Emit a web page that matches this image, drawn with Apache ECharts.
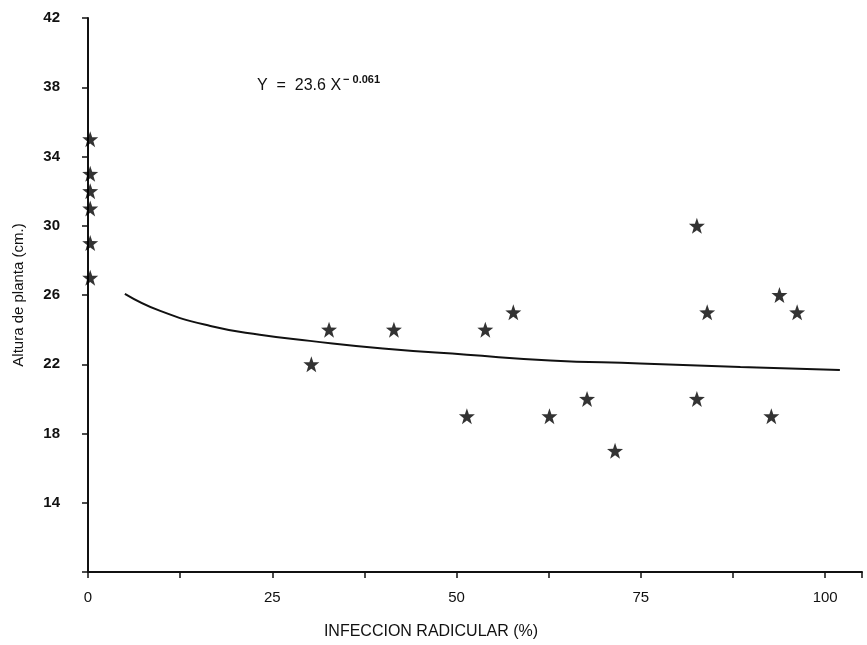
<!DOCTYPE html>
<html>
<head>
<meta charset="utf-8">
<script src="https://cdn.jsdelivr.net/npm/echarts@6/dist/echarts.min.js"></script>
<style>
html, body { margin: 0; padding: 0; background: #fff; }
#chart { width: 867px; height: 645px; }
</style>
</head>
<body>
<div id="chart"></div>
<script>
// observed plants: infeccion radicular (%) vs altura (cm.)
var infeccion = [0.3, 0.3, 0.3, 0.3, 0.3, 0.3, 30.3, 32.7, 41.5, 51.4, 53.9, 57.7, 62.6, 67.7, 71.5, 82.6, 82.6, 84.0, 92.7, 93.8, 96.2];
var altura = [35, 33, 32, 31, 29, 27, 22, 24, 24, 19, 24, 25, 19, 20, 17, 30, 20, 25, 19, 26, 25];

// fitted curve
var curvaX = [5.0, 9.8, 16.6, 23.3, 30.1, 40.0, 51.4, 62.7, 74.9, 88.5, 102.0];
var curvaY = [26.07, 25.08, 24.21, 23.70, 23.35, 22.91, 22.55, 22.22, 22.05, 21.84, 21.67];

var xLabels = [0, 25, 50, 75, 100];
var yLabels = [14, 18, 22, 26, 30, 34, 38, 42];

var star = 'path://M0,-10 L2.35,-3.24 L9.51,-3.09 L3.8,1.24 L5.88,8.09 L0,4 L-5.88,8.09 L-3.8,1.24 L-9.51,-3.09 L-2.35,-3.24 Z';

var puntos = infeccion.map(function (x, i) { return [x, altura[i]]; });
var curva = curvaX.map(function (x, i) { return [x, curvaY[i]]; });

var chart = echarts.init(document.getElementById('chart'));
chart.setOption({
    animation: false,
    backgroundColor: '#fff',
    grid: { left: 88, right: 5, top: 18, bottom: 70 },
    xAxis: {
        type: 'value',
        min: 0,
        max: 105,
        interval: 12.5,
        name: 'INFECCION RADICULAR (%)',
        nameLocation: 'middle',
        nameGap: 52,
        nameTextStyle: {
            color: '#111',
            fontSize: 16,
            fontFamily: 'Liberation Sans Narrow, Liberation Sans, Arial',
            padding: [0, 88, 0, 0]
        },
        axisLine: { show: true, lineStyle: { color: '#111', width: 2 } },
        axisTick: { show: true, length: 6, lineStyle: { color: '#111', width: 1.5 } },
        axisLabel: {
            color: '#111',
            fontSize: 15,
            fontFamily: 'Liberation Sans Narrow, Liberation Sans, Arial',
            margin: 18,
            formatter: function (v) { return xLabels.indexOf(v) >= 0 ? String(v) : ''; }
        },
        splitLine: { show: false }
    },
    yAxis: {
        type: 'value',
        min: 10,
        max: 42,
        interval: 4,
        name: 'Altura de planta (cm.)',
        nameLocation: 'middle',
        nameGap: 62,
        nameTextStyle: { color: '#111', fontSize: 15, fontFamily: 'Liberation Sans, Arial' },
        axisLine: { show: true, lineStyle: { color: '#111', width: 2 } },
        axisTick: { show: true, length: 6, lineStyle: { color: '#111', width: 1.5 } },
        axisLabel: {
            color: '#111',
            fontSize: 15,
            fontWeight: 'bold',
            fontFamily: 'Liberation Sans, Arial',
            margin: 28,
            formatter: function (v) { return yLabels.indexOf(v) >= 0 ? String(v) : ''; }
        },
        splitLine: { show: false }
    },
    graphic: [
        {
            type: 'text',
            left: 257,
            top: 74,
            style: {
                text: '{a|Y  =  23.6 X}{b|− 0.061}',
                rich: {
                    a: { fontSize: 16, fontFamily: 'Liberation Sans, Arial', fill: '#111' },
                    b: { fontSize: 11, fontWeight: 'bold', fontFamily: 'Liberation Sans, Arial', fill: '#111', padding: [0, 0, 13, 2] }
                }
            }
        }
    ],
    series: [
        {
            name: 'curva',
            type: 'line',
            data: curva,
            smooth: true,
            showSymbol: false,
            lineStyle: { color: '#111', width: 2 },
            z: 2
        },
        {
            name: 'plantas',
            type: 'scatter',
            data: puntos,
            symbol: star,
            symbolSize: 16,
            itemStyle: { color: '#000' },
            z: 3
        }
    ]
});
</script>
</body>
</html>
